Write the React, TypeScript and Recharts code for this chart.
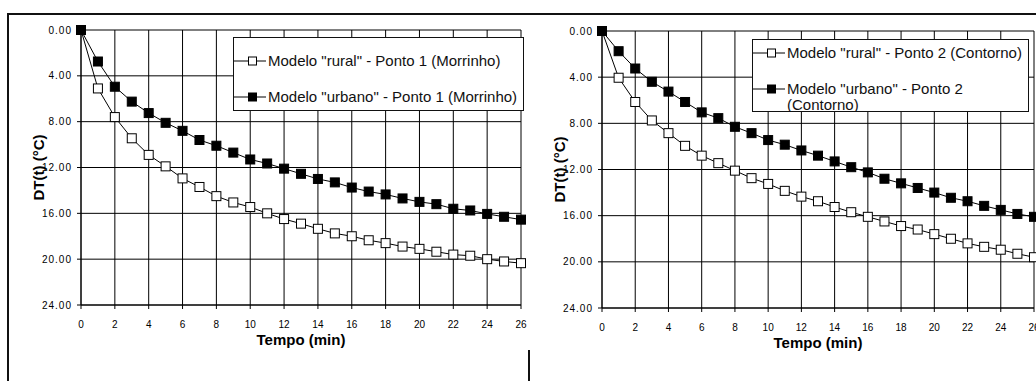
import React from "react";
import { LineChart, Line, XAxis, YAxis, CartesianGrid, Legend } from "recharts";

// tempo (min)
const minutes = [0, 1, 2, 3, 4, 5, 6, 7, 8, 9, 10, 11, 12, 13, 14, 15, 16, 17, 18, 19, 20, 21, 22, 23, 24, 25, 26];

// Ponto 1 (Morrinho)
const ruralP1 = [0, 5.1, 7.6, 9.45, 10.9, 11.9, 12.95, 13.7, 14.5, 15.05, 15.45, 16.0, 16.5, 16.9, 17.35, 17.75, 18.0, 18.35, 18.6, 18.9, 19.1, 19.35, 19.6, 19.7, 20.0, 20.2, 20.35];
const urbanoP1 = [0, 2.75, 4.95, 6.25, 7.25, 8.1, 8.8, 9.6, 10.1, 10.7, 11.3, 11.65, 12.1, 12.55, 13.0, 13.3, 13.75, 14.1, 14.35, 14.7, 15.0, 15.2, 15.6, 15.75, 16.05, 16.3, 16.55];

// Ponto 2 (Contorno)
const ruralP2 = [0, 4.05, 6.15, 7.75, 8.85, 9.95, 10.8, 11.45, 12.1, 12.75, 13.25, 13.85, 14.35, 14.75, 15.25, 15.7, 16.1, 16.5, 16.9, 17.2, 17.6, 18.0, 18.4, 18.7, 18.95, 19.3, 19.6];
const urbanoP2 = [0, 1.75, 3.25, 4.4, 5.25, 6.15, 7.05, 7.55, 8.3, 8.85, 9.45, 9.85, 10.35, 10.8, 11.3, 11.8, 12.25, 12.8, 13.2, 13.6, 14.0, 14.45, 14.75, 15.15, 15.5, 15.85, 16.1];

const xTicks = [0, 2, 4, 6, 8, 10, 12, 14, 16, 18, 20, 22, 24, 26];
const yTicks = [0, 4, 8, 12, 16, 20, 24];

const FONT = "'Liberation Sans', Arial, sans-serif";

const squareDot = (fill: string) => (props: any) => {
  const { cx, cy, index } = props;
  if (cx == null || cy == null) return <g key={index} />;
  return (
    <rect key={index} x={cx - 4.5} y={cy - 4.5} width={9} height={9}
      fill={fill} stroke="#000" strokeWidth={1} />
  );
};

function LegendIcon({ fill }: { fill: string }) {
  return (
    <svg width={32} height={10} style={{ display: "block", flex: "none" }}>
      <line x1={0} y1={5} x2={32} y2={5} stroke="#000" strokeWidth={1} />
      <rect x={14.5} y={1} width={8} height={8} fill={fill} stroke="#000" strokeWidth={1} />
    </svg>
  );
}

interface PanelProps {
  left: number;
  width: number;
  margin: { top: number; right: number; bottom: number; left: number };
  rural: number[];
  urbano: number[];
  ruralName: string;
  urbanoName: string;
  legendBox: { left: number; top: number; width: number; height: number };
  legendRows: { y1: number; y2: number };
  urbanoLines: string[];
}

function Panel(p: PanelProps) {
  const data = minutes.map((m, i) => ({ t: m, rural: p.rural[i], urbano: p.urbano[i] }));

  const renderLegend = () => (
    <div style={{
      position: "relative", boxSizing: "border-box", width: p.legendBox.width, height: p.legendBox.height,
      border: "1px solid #111", background: "#fff", overflow: "hidden",
      fontFamily: FONT, fontSize: 15, color: "#111", lineHeight: "16px",
    }}>
      <div style={{ position: "absolute", left: 0, top: p.legendRows.y1 - 9, display: "flex", alignItems: "center" }}>
        <LegendIcon fill="#fff" />
        <span style={{ marginLeft: 2, whiteSpace: "nowrap" }}>{p.ruralName}</span>
      </div>
      <div style={{ position: "absolute", left: 0, top: p.legendRows.y2 - 9, display: "flex", alignItems: "flex-start" }}>
        <div style={{ paddingTop: 3 }}><LegendIcon fill="#000" /></div>
        <span style={{ marginLeft: 2, whiteSpace: "nowrap" }}>
          {p.urbanoLines.map((l, i) => (<div key={i}>{l}</div>))}
        </span>
      </div>
    </div>
  );

  return (
    <div style={{ position: "absolute", left: p.left, top: 0 }}>
      <LineChart width={p.width} height={381} data={data} margin={p.margin}>
        <CartesianGrid stroke="#000" strokeWidth={1} horizontalValues={yTicks} verticalValues={xTicks} />
        <XAxis
          dataKey="t" type="number" domain={[0, 26]} ticks={xTicks} interval={0}
          tick={{ fontSize: 10, fill: "#000", fontFamily: FONT }}
          tickSize={4} tickMargin={12} height={30}
          axisLine={{ stroke: "#000" }} tickLine={{ stroke: "#000" }}
          label={{ value: "Tempo (min)", position: "bottom", offset: -1, style: { fontSize: 15, fontWeight: "bold", fill: "#000", fontFamily: FONT } }}
        />
        <YAxis
          type="number" reversed domain={[0, 24]} ticks={yTicks} interval={0} width={50}
          tickFormatter={(v: number) => v.toFixed(2)}
          tick={{ fontSize: 10, fill: "#000", fontFamily: FONT, letterSpacing: 1 }}
          tickSize={4} tickMargin={5}
          axisLine={{ stroke: "#000" }} tickLine={{ stroke: "#000" }}
          label={{ value: "DT(t)  (°C)", angle: -90, position: "insideLeft", offset: 8, style: { textAnchor: "middle", fontSize: 15, fontWeight: "bold", fill: "#000", fontFamily: FONT } }}
        />
        <Legend
          layout="vertical" align="center" verticalAlign="middle"
          content={renderLegend}
          wrapperStyle={{ left: p.legendBox.left, top: p.legendBox.top, width: p.legendBox.width, height: p.legendBox.height }}
        />
        <Line dataKey="rural" name={p.ruralName} stroke="#000" strokeWidth={1} type="linear"
          dot={squareDot("#fff")} activeDot={false} isAnimationActive={false} />
        <Line dataKey="urbano" name={p.urbanoName} stroke="#000" strokeWidth={1} type="linear"
          dot={squareDot("#000")} activeDot={false} isAnimationActive={false} />
      </LineChart>
    </div>
  );
}

export default function App() {
  return (
    <div style={{ position: "absolute", left: 0, top: 0, width: 1036, height: 381, background: "#fff", overflow: "hidden" }}>
      <Panel
        left={0} width={530}
        margin={{ top: 30, right: 9, bottom: 46, left: 31 }}
        rural={ruralP1} urbano={urbanoP1}
        ruralName={'Modelo "rural" - Ponto 1 (Morrinho)'}
        urbanoName={'Modelo "urbano" - Ponto 1 (Morrinho)'}
        legendBox={{ left: 233, top: 37, width: 291, height: 74 }}
        legendRows={{ y1: 24, y2: 60 }}
        urbanoLines={['Modelo "urbano" - Ponto 1 (Morrinho)']}
      />
      <Panel
        left={530} width={506}
        margin={{ top: 31, right: 2, bottom: 43, left: 22 }}
        rural={ruralP2} urbano={urbanoP2}
        ruralName={'Modelo "rural" - Ponto 2 (Contorno)'}
        urbanoName={'Modelo "urbano" - Ponto 2 (Contorno)'}
        legendBox={{ left: 222, top: 39, width: 277, height: 73 }}
        legendRows={{ y1: 14, y2: 50 }}
        urbanoLines={['Modelo "urbano" - Ponto 2', "(Contorno)"]}
      />
      {/* moldura */}
      <div style={{ position: "absolute", left: 8, top: 13, width: 1028, height: 2, background: "#111" }} />
      <div style={{ position: "absolute", left: 7, top: 13, width: 2, height: 368, background: "#111" }} />
      <div style={{ position: "absolute", left: 528, top: 350, width: 2, height: 31, background: "#111" }} />
    </div>
  );
}
